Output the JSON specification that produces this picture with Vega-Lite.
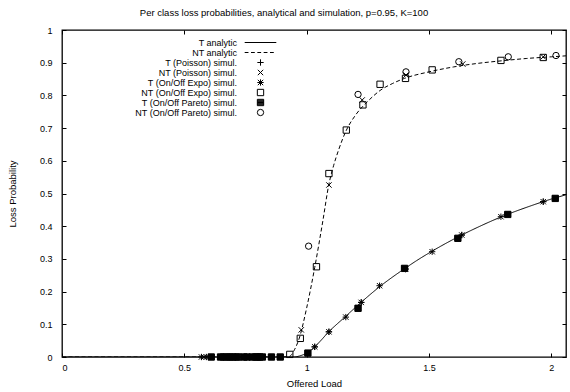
{
  "$schema": "https://vega.github.io/schema/vega-lite/v6.json",
  "autosize": {"type": "none"},
  "width": 504,
  "height": 327,
  "padding": {"left": 62, "top": 30, "right": 4, "bottom": 35},
  "background": "white",
  "config": {
    "view": {"stroke": "black", "strokeWidth": 1.3},
    "font": "Liberation Sans",
    "axis": {"grid": false, "domain": false, "labelFont": "Liberation Sans", "titleFont": "Liberation Sans", "labelFontSize": 9, "titleFontSize": 9.5, "titleFontWeight": "normal", "labelColor": "black", "titleColor": "black", "tickColor": "black", "tickWidth": 1}
  },
  "title": {"text": "Per class loss probabilities, analytical and simulation, p=0.95, K=100", "fontSize": 9.5, "fontWeight": "normal", "font": "Liberation Sans", "anchor": "middle", "dx": -30, "offset": 9, "color": "black"},
  "data": {"values": [
    {"series": "T analytic", "kind": "a", "load": 0, "loss": 0},
    {"series": "T analytic", "kind": "a", "load": 0.5, "loss": 0},
    {"series": "T analytic", "kind": "a", "load": 0.9, "loss": 0},
    {"series": "T analytic", "kind": "a", "load": 0.95, "loss": 0},
    {"series": "T analytic", "kind": "a", "load": 0.97, "loss": 0.003},
    {"series": "T analytic", "kind": "a", "load": 1.0, "loss": 0.012},
    {"series": "T analytic", "kind": "a", "load": 1.03, "loss": 0.029},
    {"series": "T analytic", "kind": "a", "load": 1.06, "loss": 0.052},
    {"series": "T analytic", "kind": "a", "load": 1.09, "loss": 0.077},
    {"series": "T analytic", "kind": "a", "load": 1.12, "loss": 0.098},
    {"series": "T analytic", "kind": "a", "load": 1.15, "loss": 0.118},
    {"series": "T analytic", "kind": "a", "load": 1.2, "loss": 0.152},
    {"series": "T analytic", "kind": "a", "load": 1.25, "loss": 0.185},
    {"series": "T analytic", "kind": "a", "load": 1.3, "loss": 0.216},
    {"series": "T analytic", "kind": "a", "load": 1.35, "loss": 0.244},
    {"series": "T analytic", "kind": "a", "load": 1.4, "loss": 0.27},
    {"series": "T analytic", "kind": "a", "load": 1.45, "loss": 0.295},
    {"series": "T analytic", "kind": "a", "load": 1.5, "loss": 0.318},
    {"series": "T analytic", "kind": "a", "load": 1.6, "loss": 0.36},
    {"series": "T analytic", "kind": "a", "load": 1.7, "loss": 0.397},
    {"series": "T analytic", "kind": "a", "load": 1.8, "loss": 0.43},
    {"series": "T analytic", "kind": "a", "load": 1.9, "loss": 0.458},
    {"series": "T analytic", "kind": "a", "load": 2.0, "loss": 0.483},
    {"series": "T analytic", "kind": "a", "load": 2.06, "loss": 0.496},
    {"series": "NT analytic", "kind": "a", "load": 0, "loss": 0},
    {"series": "NT analytic", "kind": "a", "load": 0.5, "loss": 0},
    {"series": "NT analytic", "kind": "a", "load": 0.9, "loss": 0},
    {"series": "NT analytic", "kind": "a", "load": 0.93, "loss": 0.002},
    {"series": "NT analytic", "kind": "a", "load": 0.95, "loss": 0.022},
    {"series": "NT analytic", "kind": "a", "load": 0.97, "loss": 0.058},
    {"series": "NT analytic", "kind": "a", "load": 1.0, "loss": 0.15},
    {"series": "NT analytic", "kind": "a", "load": 1.033, "loss": 0.274},
    {"series": "NT analytic", "kind": "a", "load": 1.067, "loss": 0.42},
    {"series": "NT analytic", "kind": "a", "load": 1.09, "loss": 0.525},
    {"series": "NT analytic", "kind": "a", "load": 1.11, "loss": 0.585},
    {"series": "NT analytic", "kind": "a", "load": 1.13, "loss": 0.632},
    {"series": "NT analytic", "kind": "a", "load": 1.16, "loss": 0.69},
    {"series": "NT analytic", "kind": "a", "load": 1.2, "loss": 0.74},
    {"series": "NT analytic", "kind": "a", "load": 1.25, "loss": 0.782},
    {"series": "NT analytic", "kind": "a", "load": 1.3, "loss": 0.815},
    {"series": "NT analytic", "kind": "a", "load": 1.35, "loss": 0.836},
    {"series": "NT analytic", "kind": "a", "load": 1.4, "loss": 0.852},
    {"series": "NT analytic", "kind": "a", "load": 1.5, "loss": 0.872},
    {"series": "NT analytic", "kind": "a", "load": 1.6, "loss": 0.887},
    {"series": "NT analytic", "kind": "a", "load": 1.7, "loss": 0.898},
    {"series": "NT analytic", "kind": "a", "load": 1.8, "loss": 0.906},
    {"series": "NT analytic", "kind": "a", "load": 1.9, "loss": 0.913},
    {"series": "NT analytic", "kind": "a", "load": 2.0, "loss": 0.918},
    {"series": "NT analytic", "kind": "a", "load": 2.06, "loss": 0.921},
    {"series": "T (Poisson) simul.", "kind": "s", "load": 1.033, "loss": 0.031},
    {"series": "T (Poisson) simul.", "kind": "s", "load": 1.091, "loss": 0.077},
    {"series": "T (Poisson) simul.", "kind": "s", "load": 1.223, "loss": 0.167},
    {"series": "T (Poisson) simul.", "kind": "s", "load": 1.404, "loss": 0.269},
    {"series": "T (Poisson) simul.", "kind": "s", "load": 1.634, "loss": 0.373},
    {"series": "T (Poisson) simul.", "kind": "s", "load": 1.967, "loss": 0.475},
    {"series": "NT (Poisson) simul.", "kind": "s", "load": 0.58, "loss": 0},
    {"series": "NT (Poisson) simul.", "kind": "s", "load": 0.978, "loss": 0.083},
    {"series": "NT (Poisson) simul.", "kind": "s", "load": 1.091, "loss": 0.526},
    {"series": "NT (Poisson) simul.", "kind": "s", "load": 1.227, "loss": 0.786},
    {"series": "NT (Poisson) simul.", "kind": "s", "load": 1.406, "loss": 0.862},
    {"series": "NT (Poisson) simul.", "kind": "s", "load": 1.638, "loss": 0.896},
    {"series": "NT (Poisson) simul.", "kind": "s", "load": 1.967, "loss": 0.918},
    {"series": "T (On/Off Expo) simul.", "kind": "s", "load": 0.57, "loss": 0},
    {"series": "T (On/Off Expo) simul.", "kind": "s", "load": 0.59, "loss": 0},
    {"series": "T (On/Off Expo) simul.", "kind": "s", "load": 1.033, "loss": 0.031},
    {"series": "T (On/Off Expo) simul.", "kind": "s", "load": 1.091, "loss": 0.077},
    {"series": "T (On/Off Expo) simul.", "kind": "s", "load": 1.16, "loss": 0.122},
    {"series": "T (On/Off Expo) simul.", "kind": "s", "load": 1.223, "loss": 0.167},
    {"series": "T (On/Off Expo) simul.", "kind": "s", "load": 1.298, "loss": 0.218},
    {"series": "T (On/Off Expo) simul.", "kind": "s", "load": 1.404, "loss": 0.269},
    {"series": "T (On/Off Expo) simul.", "kind": "s", "load": 1.513, "loss": 0.322},
    {"series": "T (On/Off Expo) simul.", "kind": "s", "load": 1.634, "loss": 0.373},
    {"series": "T (On/Off Expo) simul.", "kind": "s", "load": 1.794, "loss": 0.429},
    {"series": "T (On/Off Expo) simul.", "kind": "s", "load": 1.967, "loss": 0.475},
    {"series": "NT (On/Off Expo) simul.", "kind": "s", "load": 0.66, "loss": 0},
    {"series": "NT (On/Off Expo) simul.", "kind": "s", "load": 0.72, "loss": 0},
    {"series": "NT (On/Off Expo) simul.", "kind": "s", "load": 0.8, "loss": 0},
    {"series": "NT (On/Off Expo) simul.", "kind": "s", "load": 0.931, "loss": 0.008},
    {"series": "NT (On/Off Expo) simul.", "kind": "s", "load": 0.974, "loss": 0.057},
    {"series": "NT (On/Off Expo) simul.", "kind": "s", "load": 1.04, "loss": 0.276},
    {"series": "NT (On/Off Expo) simul.", "kind": "s", "load": 1.091, "loss": 0.561},
    {"series": "NT (On/Off Expo) simul.", "kind": "s", "load": 1.162, "loss": 0.694},
    {"series": "NT (On/Off Expo) simul.", "kind": "s", "load": 1.23, "loss": 0.771},
    {"series": "NT (On/Off Expo) simul.", "kind": "s", "load": 1.3, "loss": 0.834},
    {"series": "NT (On/Off Expo) simul.", "kind": "s", "load": 1.404, "loss": 0.852},
    {"series": "NT (On/Off Expo) simul.", "kind": "s", "load": 1.513, "loss": 0.878},
    {"series": "NT (On/Off Expo) simul.", "kind": "s", "load": 1.794, "loss": 0.907},
    {"series": "NT (On/Off Expo) simul.", "kind": "s", "load": 1.967, "loss": 0.916},
    {"series": "T (On/Off Pareto) simul.", "kind": "s", "load": 0.61, "loss": 0},
    {"series": "T (On/Off Pareto) simul.", "kind": "s", "load": 0.648, "loss": 0},
    {"series": "T (On/Off Pareto) simul.", "kind": "s", "load": 0.672, "loss": 0},
    {"series": "T (On/Off Pareto) simul.", "kind": "s", "load": 0.686, "loss": 0},
    {"series": "T (On/Off Pareto) simul.", "kind": "s", "load": 0.697, "loss": 0},
    {"series": "T (On/Off Pareto) simul.", "kind": "s", "load": 0.713, "loss": 0},
    {"series": "T (On/Off Pareto) simul.", "kind": "s", "load": 0.743, "loss": 0},
    {"series": "T (On/Off Pareto) simul.", "kind": "s", "load": 0.756, "loss": 0},
    {"series": "T (On/Off Pareto) simul.", "kind": "s", "load": 0.778, "loss": 0},
    {"series": "T (On/Off Pareto) simul.", "kind": "s", "load": 0.792, "loss": 0},
    {"series": "T (On/Off Pareto) simul.", "kind": "s", "load": 0.808, "loss": 0},
    {"series": "T (On/Off Pareto) simul.", "kind": "s", "load": 0.819, "loss": 0},
    {"series": "T (On/Off Pareto) simul.", "kind": "s", "load": 0.856, "loss": 0},
    {"series": "T (On/Off Pareto) simul.", "kind": "s", "load": 0.892, "loss": 0},
    {"series": "T (On/Off Pareto) simul.", "kind": "s", "load": 1.005, "loss": 0.012},
    {"series": "T (On/Off Pareto) simul.", "kind": "s", "load": 1.21, "loss": 0.149},
    {"series": "T (On/Off Pareto) simul.", "kind": "s", "load": 1.4, "loss": 0.271},
    {"series": "T (On/Off Pareto) simul.", "kind": "s", "load": 1.618, "loss": 0.363},
    {"series": "T (On/Off Pareto) simul.", "kind": "s", "load": 1.822, "loss": 0.436},
    {"series": "T (On/Off Pareto) simul.", "kind": "s", "load": 2.016, "loss": 0.485},
    {"series": "NT (On/Off Pareto) simul.", "kind": "s", "load": 1.008, "loss": 0.339},
    {"series": "NT (On/Off Pareto) simul.", "kind": "s", "load": 1.21, "loss": 0.803},
    {"series": "NT (On/Off Pareto) simul.", "kind": "s", "load": 1.406, "loss": 0.872},
    {"series": "NT (On/Off Pareto) simul.", "kind": "s", "load": 1.622, "loss": 0.903},
    {"series": "NT (On/Off Pareto) simul.", "kind": "s", "load": 1.824, "loss": 0.918},
    {"series": "NT (On/Off Pareto) simul.", "kind": "s", "load": 2.019, "loss": 0.922}
  ]},
  "resolve": {"axis": {"x": "independent", "y": "independent"}},
  "layer": [
    {
      "transform": [{"filter": "datum.kind === 'a'"}],
      "mark": {"type": "line", "color": "black", "strokeWidth": 1, "interpolate": "monotone", "clip": true},
      "encoding": {
        "x": {"field": "load", "type": "quantitative", "scale": {"domain": [0, 2.06], "nice": false, "zero": false},
          "axis": {"orient": "bottom", "title": "Offered Load", "tickCount": 5, "format": ".1~f", "tickSize": -4, "labelPadding": 10, "titlePadding": 6}},
        "y": {"field": "loss", "type": "quantitative", "scale": {"domain": [0, 1], "nice": false},
          "axis": {"orient": "left", "title": "Loss Probability", "tickCount": 10, "format": ".1~f", "tickSize": -4, "labelPadding": 14, "titlePadding": 22}},
        "strokeDash": {"field": "series", "type": "nominal", "scale": {"domain": ["T analytic", "NT analytic"], "range": [[1, 0], [4, 2.5]]}, "legend": null}
      }
    },
    {
      "transform": [{"filter": "datum.kind === 's'"}],
      "mark": {"type": "point", "filled": false, "color": "black", "strokeWidth": 1, "size": 40, "opacity": 1},
      "encoding": {
        "x": {"field": "load", "type": "quantitative",
          "axis": {"orient": "top", "title": null, "labels": false, "tickCount": 5, "tickSize": -4}},
        "y": {"field": "loss", "type": "quantitative",
          "axis": {"orient": "right", "title": null, "labels": false, "tickCount": 10, "tickSize": -4}},
        "fill": {"condition": {"test": "datum.series === 'T (On/Off Pareto) simul.'", "value": "black"}, "value": "transparent"},
        "shape": {"field": "series", "type": "nominal",
          "scale": {"domain": ["T analytic", "NT analytic", "T (Poisson) simul.", "NT (Poisson) simul.", "T (On/Off Expo) simul.", "NT (On/Off Expo) simul.", "T (On/Off Pareto) simul.", "NT (On/Off Pareto) simul."],
            "range": ["M-5,0H5", "M-5,0H-3.8M-3,0H-1.8M-1,0H0.2M1,0H2.2M3,0H4.2", "M-1,0H1M0,-1V1", "M-0.85,-0.85L0.85,0.85M-0.85,0.85L0.85,-0.85", "M-0.85,-0.85L0.85,0.85M-0.85,0.85L0.85,-0.85M-1,0H1M0,-1V1", "square", "M-1,-1H1V1H-1ZM-1,-0.75H1M-1,-0.5H1M-1,-0.25H1M-1,0H1M-1,0.25H1M-1,0.5H1M-1,0.75H1", "circle"]},
          "legend": {"title": null, "orient": "none", "legendX": 194, "legendY": 8, "direction": "vertical", "labelAlign": "right", "labelOffset": -28, "labelFontSize": 9, "labelFont": "Liberation Sans", "labelColor": "black", "symbolSize": 40, "symbolStrokeWidth": 1, "symbolStrokeColor": "black", "rowPadding": -1.9, "labelLimit": 300}}
      }
    }
  ]
}
